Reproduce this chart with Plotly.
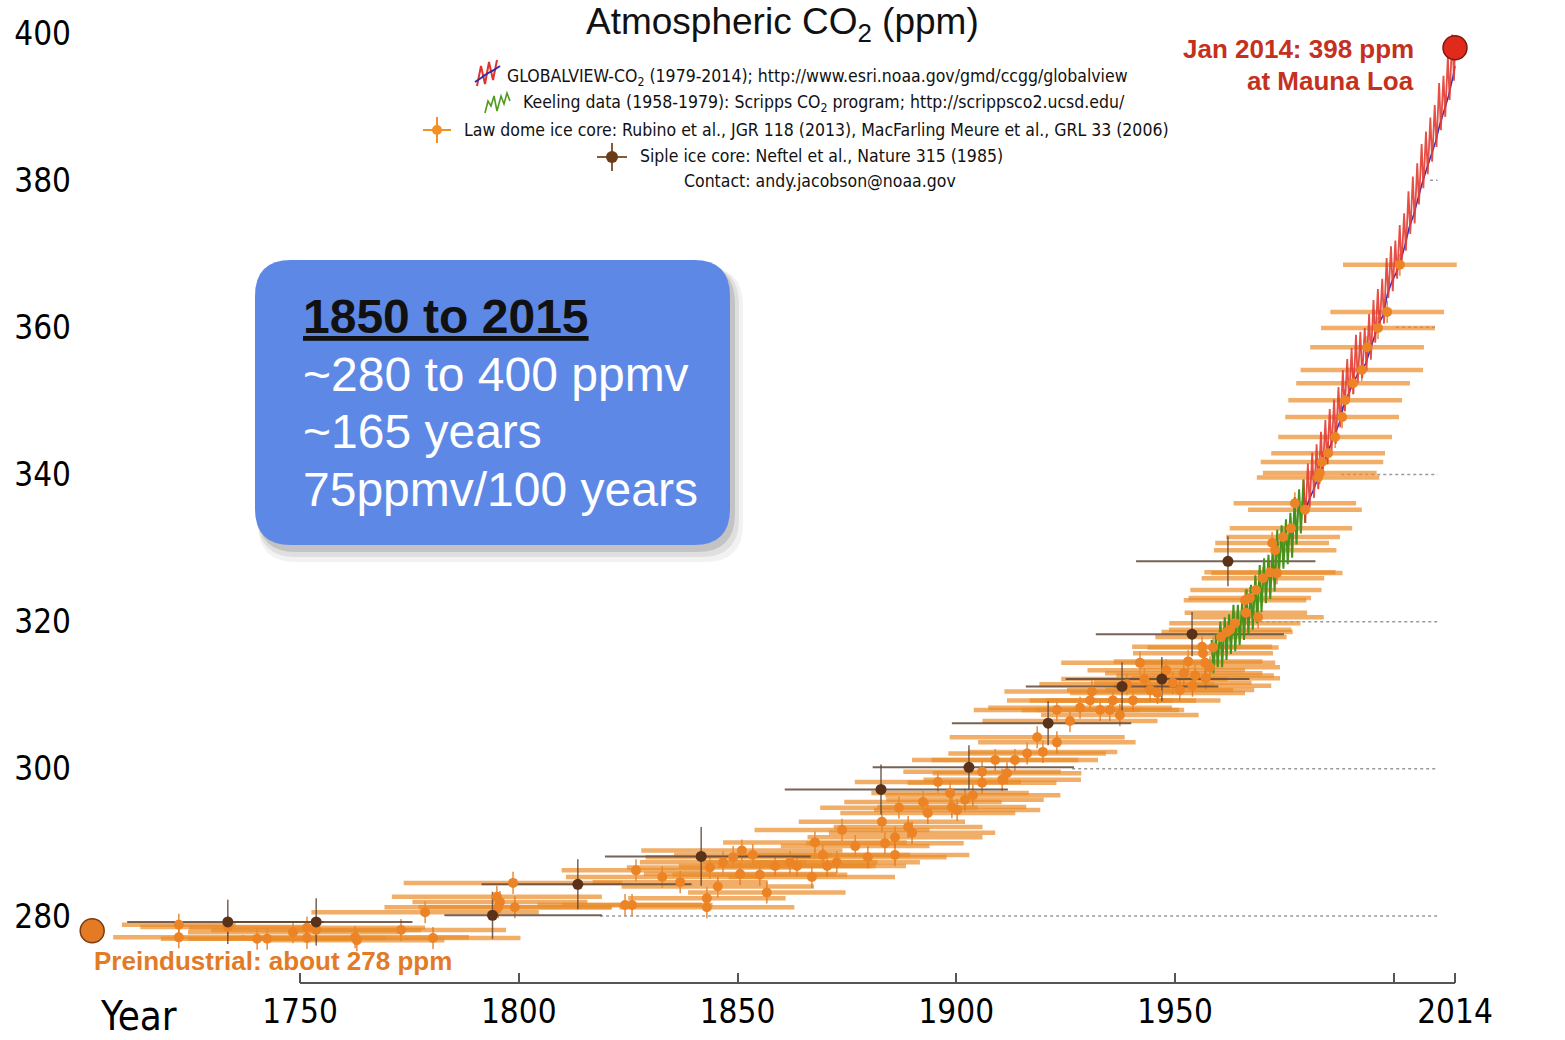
import plotly.graph_objects as go

# ---------------- data ----------------
# Law Dome ice core: gas age (year), CO2 (ppm), age spread (+/- years)
law_year = [1722.3, 1722.3, 1733.5, 1740.2, 1742.5, 1748.4, 1751.6, 1751.6, 1753.7, 1762.6,
            1763.0, 1773.1, 1778.6, 1780.4, 1795.0, 1795.3, 1795.7, 1798.7, 1799.1, 1824.3,
            1825.9, 1826.8, 1832.8, 1836.9, 1843.0, 1843.0, 1843.7, 1845.5, 1846.7, 1849.0,
            1850.6, 1851.0, 1853.5, 1855.1, 1856.7, 1858.6, 1862.0, 1863.6, 1867.0, 1867.7,
            1869.5, 1870.5, 1872.7, 1873.9, 1876.9, 1879.8, 1883.0, 1883.7, 1886.0, 1886.0,
            1886.9, 1889.0, 1889.9, 1892.4, 1893.5, 1895.8, 1898.6, 1899.0, 1900.2, 1902.0,
            1903.8, 1905.9, 1905.9, 1908.9, 1910.5, 1911.6, 1913.4, 1916.2, 1918.5, 1919.8,
            1923.0, 1923.0, 1926.0, 1928.3, 1930.6, 1931.0, 1932.9, 1935.1, 1935.8, 1937.4,
            1939.0, 1940.4, 1942.0, 1943.0, 1944.3, 1946.0, 1948.0, 1949.5, 1951.1, 1952.0,
            1953.0, 1954.0, 1954.6, 1956.2, 1956.4, 1956.9, 1957.0, 1958.0, 1958.7, 1960.5,
            1961.9, 1962.6, 1963.7, 1966.0, 1966.2, 1967.1, 1968.5, 1969.0, 1970.1, 1971.7,
            1972.2, 1972.9, 1973.3, 1974.7, 1976.5, 1977.4, 1979.7, 1982.7, 1983.1, 1983.6,
            1985.0, 1986.6, 1988.2, 1988.9, 1990.7, 1992.7, 1993.9, 1996.4, 1998.5, 2001.4]
law_ppm = [278.8, 277.1, 278.5, 276.9, 276.9, 277.8, 278.4, 277.0, 278.1, 277.1,
           276.7, 278.1, 280.5, 277.0, 282.6, 281.2, 281.9, 284.5, 281.2, 281.5,
           281.5, 286.2, 285.3, 284.6, 282.4, 281.2, 286.6, 284.0, 287.3, 288.0,
           285.7, 288.9, 288.3, 285.6, 283.2, 286.8, 287.3, 286.8, 285.3, 290.0,
           288.3, 286.8, 287.3, 291.7, 289.5, 288.0, 292.8, 289.9, 290.7, 288.3,
           294.7, 292.1, 291.3, 295.5, 294.0, 298.2, 296.7, 294.8, 294.4, 295.8,
           296.4, 299.6, 298.1, 301.2, 298.5, 299.4, 301.2, 302.1, 304.3, 302.3,
           308.0, 303.6, 306.5, 308.3, 309.3, 310.5, 308.0, 308.0, 309.3, 307.3,
           311.5, 309.3, 314.4, 312.2, 310.7, 310.3, 313.4, 311.7, 310.7, 313.0,
           314.6, 311.3, 312.7, 316.6, 315.7, 314.4, 312.3, 313.8, 316.5, 317.9,
           318.6, 318.9, 319.8, 322.9, 321.2, 323.2, 324.3, 320.6, 325.9, 326.7,
           330.7, 329.7, 326.6, 331.5, 332.7, 336.1, 335.2, 339.6, 340.2, 341.7,
           342.9, 345.1, 347.8, 350.1, 352.4, 354.2, 357.3, 359.9, 362.1, 368.5]
law_age_err = [13, 15, 20, 22, 18, 24, 27, 18, 24, 26,
               20, 24, 26, 20, 24, 26, 20, 25, 22, 20,
               16, 17, 22, 20, 18, 20, 19, 22, 19, 20,
               22, 23, 18, 20, 18, 22, 20, 18, 19, 21,
               20, 18, 19, 20, 17, 18, 19, 18, 20, 17,
               18, 17, 19, 18, 20, 19, 18, 17, 19, 18,
               20, 18, 17, 19, 18, 17, 19, 18, 20, 17,
               19, 18, 20, 21, 19, 20, 18, 17, 19, 18,
               20, 20, 18, 19, 19, 20, 18, 18, 17, 18,
               17, 18, 18, 16, 16, 16, 17, 16, 15, 15,
               15, 14, 15, 14, 14, 14, 15, 15, 14, 15,
               13, 14, 15, 13, 14, 14, 13, 14, 13, 14,
               13, 13, 13, 13, 13, 14, 13, 13, 13, 13]

# Siple ice core (Neftel et al. 1985)
siple_year = [1733.5, 1753.7, 1794.0, 1813.5, 1841.7, 1882.8, 1902.9, 1921.0, 1937.9, 1947.0, 1953.9, 1962.1]
siple_ppm = [279.2, 279.2, 280.1, 284.3, 288.1, 297.2, 300.2, 306.2, 311.2, 312.2, 318.3, 328.2]
siple_age_minus = [23, 19, 11, 22, 22, 22, 22, 22, 22, 22, 22, 21]
siple_age_plus = [22, 22, 25, 26, 25, 29, 24, 19, 22, 20, 21, 20]
siple_ppm_err = [3.0, 3.2, 3.2, 3.4, 4.0, 3.4, 3.0, 3.0, 3.3, 3.0, 3.0, 3.4]

# Keeling record 1958-1979: yearly spring maximum and autumn minimum (ppm)
keeling_years = list(range(1958, 1980))
keeling_peak = [317.5, 318.3, 320.0, 320.6, 321.0, 322.3, 322.3, 322.9, 324.4, 325.0, 326.3,
                327.7, 328.6, 329.1, 330.4, 332.5, 333.1, 333.9, 334.8, 336.9, 338.0, 339.3]
keeling_trough = [313.0, 313.8, 313.8, 314.8, 315.6, 316.0, 316.8, 317.5, 318.3, 318.9, 319.8,
                  321.3, 322.5, 323.1, 324.1, 326.4, 327.2, 327.8, 328.7, 330.5, 332.0, 333.4]

# GLOBALVIEW-CO2 1979-2014: yearly maximum / minimum (red) and global mean (blue)
gv_years = list(range(1979, 2014))
gv_peak = [339.3, 341.5, 343.0, 344.1, 345.8, 347.4, 348.9, 350.2, 351.9, 354.2,
           355.7, 357.2, 359.0, 359.4, 359.9, 361.8, 363.7, 365.2, 366.6, 369.4,
           371.0, 371.8, 373.9, 375.5, 378.5, 380.5, 382.3, 384.9, 386.6, 388.5,
           390.2, 393.2, 394.2, 396.8, 399.8]
gv_trough = [333.4, 335.5, 336.8, 338.0, 340.0, 341.4, 343.0, 344.2, 346.4, 348.6,
             349.9, 350.9, 352.4, 353.1, 354.1, 355.6, 357.9, 359.5, 360.5, 364.0,
             364.9, 366.6, 368.1, 370.4, 372.7, 374.1, 376.7, 378.9, 380.8, 382.5,
             384.5, 386.8, 388.6, 390.9, 393.5]
gv_global = [334.6, 336.4, 337.8, 339.2, 340.8, 342.5, 344.0, 345.3, 347.0, 349.4,
             350.9, 352.2, 353.4, 354.3, 355.0, 356.7, 358.7, 360.5, 361.6, 364.5,
             366.2, 367.4, 369.0, 371.1, 373.6, 375.3, 377.6, 379.7, 381.6, 383.4,
             385.2, 387.6, 389.4, 391.5, 394.1]

mauna_loa_year, mauna_loa_ppm = 2014.0, 398
preind_year, preind_ppm = 1702.5, 278

# dotted reference levels, drawn from where the record leaves them to 2010
grid_levels = [280, 300, 320, 340, 360, 380]
grid_from = [1818.6, 1926.5, 1964.0, 1988.0, 2000.5, 2008.3]
grid_to = 2010.0

tick_years = [1750, 1800, 1850, 1900, 1950, 2000, 2014]
tick_text = ["1750", "1800", "1850", "1900", "1950", "", "2014"]
ppm_ticks = [280, 300, 320, 340, 360, 380, 400]

# ---------------- layout geometry (pixels) ----------------
W, H = 1565, 1040
ML, MR, MT, MB = 72, 70, 0, 57
PW, PH = W - ML - MR, H - MT - MB

NARROW = "Liberation Sans Narrow, Arial Narrow, DejaVu Sans Condensed, sans-serif"
SANS = "Liberation Sans, Arial, Helvetica, sans-serif"


def px(x):
    return (x - ML) / PW


def py(y):
    return (H - MB - y) / PH


def sawtooth(years, peaks, troughs):
    xs, ys = [], []
    for yr, hi, lo in zip(years, peaks, troughs):
        xs += [yr + 0.37, yr + 0.77]
        ys += [hi, lo]
    return xs, ys


fig = go.Figure()

# dotted reference lines
for lvl, x0 in zip(grid_levels, grid_from):
    fig.add_trace(go.Scatter(x=[x0, grid_to], y=[lvl, lvl], mode="lines",
                             line=dict(color="#9a9a9a", width=1.5, dash="dot"),
                             hoverinfo="skip", showlegend=False))

# Law Dome age-spread bars
fig.add_trace(go.Scatter(
    x=law_year, y=law_ppm, mode="markers",
    marker=dict(size=1, color="rgba(0,0,0,0)"),
    error_x=dict(type="data", array=law_age_err, color="rgba(234,140,42,0.7)",
                 thickness=4.5, width=0),
    error_y=dict(type="constant", value=1.5, color="rgba(226,120,30,0.85)",
                 thickness=1.5, width=0),
    hoverinfo="skip", showlegend=False))

# Siple bars
fig.add_trace(go.Scatter(
    x=siple_year, y=siple_ppm, mode="markers",
    marker=dict(size=1, color="rgba(0,0,0,0)"),
    error_x=dict(type="data", array=siple_age_plus, arrayminus=siple_age_minus,
                 color="rgba(95,70,55,0.85)", thickness=2, width=0),
    error_y=dict(type="data", array=siple_ppm_err, color="rgba(95,70,55,0.85)",
                 thickness=1.5, width=0),
    hoverinfo="skip", showlegend=False))

# Keeling record
kx, ky = sawtooth(keeling_years, keeling_peak, keeling_trough)
fig.add_trace(go.Scatter(x=kx, y=ky, mode="lines",
                         line=dict(color="#46921a", width=2),
                         hoverinfo="skip", showlegend=False))

# GLOBALVIEW records
gx, gy = sawtooth(gv_years, gv_peak, gv_trough)
gx.append(mauna_loa_year)
gy.append(mauna_loa_ppm)
fig.add_trace(go.Scatter(x=[y + 0.55 for y in gv_years] + [mauna_loa_year],
                         y=gv_global + [mauna_loa_ppm - 2.5], mode="lines",
                         line=dict(color="#3b2fb0", width=1.6),
                         hoverinfo="skip", showlegend=False))
fig.add_trace(go.Scatter(x=gx, y=gy, mode="lines",
                         line=dict(color="rgba(226,60,50,0.9)", width=1.8),
                         hoverinfo="skip", showlegend=False))

# Law Dome points
fig.add_trace(go.Scatter(x=law_year, y=law_ppm, mode="markers",
                         marker=dict(size=10, color="#ec8426", line=dict(width=0)),
                         hoverinfo="skip", showlegend=False))

# Siple points
fig.add_trace(go.Scatter(x=siple_year, y=siple_ppm, mode="markers",
                         marker=dict(size=11, color="#5a3219", line=dict(width=0)),
                         hoverinfo="skip", showlegend=False))

# highlighted end points
fig.add_trace(go.Scatter(x=[mauna_loa_year], y=[mauna_loa_ppm], mode="markers",
                         marker=dict(size=24, color="#df2a1c", line=dict(color="#7a1a10", width=1.5)),
                         hoverinfo="skip", showlegend=False, cliponaxis=False))
fig.add_trace(go.Scatter(x=[preind_year], y=[preind_ppm], mode="markers",
                         marker=dict(size=24, color="#e47a24", line=dict(color="#7a3d10", width=1.5)),
                         hoverinfo="skip", showlegend=False, cliponaxis=False))

shapes = []
annotations = []

# x axis baseline from 1750 to 2014
shapes.append(dict(type="line", xref="x", yref="paper", x0=1750, x1=2014, y0=0, y1=0,
                   line=dict(color="#555555", width=2)))


def rounded_rect(x0, y0, x1, y1, r):
    pts = [
        ("M", [(x0 + r, y0)]),
        ("L", [(x1 - r, y0)]),
        ("Q", [(x1, y0), (x1, y0 + r)]),
        ("L", [(x1, y1 - r)]),
        ("Q", [(x1, y1), (x1 - r, y1)]),
        ("L", [(x0 + r, y1)]),
        ("Q", [(x0, y1), (x0, y1 - r)]),
        ("L", [(x0, y0 + r)]),
        ("Q", [(x0, y0), (x0 + r, y0)]),
    ]
    out = []
    for cmd, coords in pts:
        out.append(cmd + " ".join(f"{px(a):.5f},{py(b):.5f}" for a, b in coords))
    return " ".join(out) + " Z"


# blue call-out box with a soft shadow
for dx, dy, grow, alpha in [(8, 12, 5, 0.05), (6, 9, 3, 0.08), (4, 6, 1, 0.12)]:
    shapes.append(dict(type="path", xref="paper", yref="paper",
                       path=rounded_rect(255 + dx - grow, 260 + dy - grow, 730 + dx + grow, 545 + dy + grow, 38),
                       fillcolor=f"rgba(0,0,0,{alpha})", line=dict(width=0), layer="above"))
shapes.append(dict(type="path", xref="paper", yref="paper",
                   path=rounded_rect(255, 260, 730, 545, 36),
                   fillcolor="#5d88e6", line=dict(width=0), layer="above"))


def poly(points, color, width):
    path = "M" + " L".join(f"{px(a):.5f},{py(b):.5f}" for a, b in points)
    return dict(type="path", xref="paper", yref="paper", path=path,
                line=dict(color=color, width=width), layer="above")


# legend icons
shapes.append(poly([(477, 86), (481, 66), (485, 84), (489, 62), (493, 80), (497, 60)], "#e0342a", 2))
shapes.append(poly([(475, 82), (481, 78), (485, 75), (490, 72), (494, 70), (500, 66)], "#2c2cb0", 2))
shapes.append(poly([(485, 113), (488, 101), (491, 106), (494, 96), (497, 111), (501, 96),
                    (504, 104), (507, 93), (510, 101)], "#4f9a1c", 1.6))
shapes.append(poly([(423, 130), (451, 130)], "#f39222", 2))
shapes.append(poly([(437, 117), (437, 143)], "#f39222", 2))
shapes.append(dict(type="circle", xref="paper", yref="paper", x0=px(432), x1=px(442), y0=py(135), y1=py(125),
                   fillcolor="#f39222", line=dict(width=0), layer="above"))
shapes.append(poly([(597, 157), (627, 157)], "#8a5a32", 2))
shapes.append(poly([(612, 143), (612, 171)], "#8a5a32", 2))
shapes.append(dict(type="circle", xref="paper", yref="paper", x0=px(606), x1=px(618), y0=py(163), y1=py(151),
                   fillcolor="#6b3a18", line=dict(width=0), layer="above"))


def label(x, y, text, size, color="#111111", family=SANS, xanchor="center", **font_extra):
    annotations.append(dict(xref="paper", yref="paper", x=px(x), y=py(y), text=text,
                            showarrow=False, xanchor=xanchor, yanchor="middle",
                            font=dict(family=family, size=size, color=color, **font_extra)))


label(782, 24, "Atmospheric CO<sub>2</sub> (ppm)", 37)
label(505, 78, "GLOBALVIEW-CO<sub>2</sub> (1979-2014); http://www.esri.noaa.gov/gmd/ccgg/globalview", 17.5,
      family=NARROW, xanchor="left")
label(521, 104, "Keeling data (1958-1979): Scripps CO<sub>2</sub> program; http://scrippsco2.ucsd.edu/", 17.5,
      family=NARROW, xanchor="left")
label(462, 130, "Law dome ice core: Rubino et al., JGR 118 (2013), MacFarling Meure et al., GRL 33 (2006)", 17.5,
      family=NARROW, xanchor="left")
label(638, 156, "Siple ice core: Neftel et al., Nature 315 (1985)", 17.5, family=NARROW, xanchor="left")
label(682, 181, "Contact: andy.jacobson@noaa.gov", 17.5, family=NARROW, xanchor="left")

label(1416, 49, "<b>Jan 2014: 398 ppm</b>", 26, color="#c4311e", xanchor="right")
label(1416, 81, "<b>at Mauna Loa</b>", 26, color="#c4311e", xanchor="right")
label(92, 961, "<b>Preindustrial: about 278 ppm</b>", 26, color="#e27a26", xanchor="left")
label(98, 1016, "Year", 40, color="#000000", family=NARROW, xanchor="left")

label(301, 316, "<b>1850 to 2015</b>", 48, color="#111111", xanchor="left", lineposition="under")
label(301, 374, "~280 to 400 ppmv", 48, color="#ffffff", xanchor="left")
label(301, 431, "~165 years", 48, color="#ffffff", xanchor="left")
label(301, 489, "75ppmv/100 years", 48, color="#ffffff", xanchor="left")

x_range = [1750 - (300 - ML) / 4.375, 1750 + (W - MR - 300) / 4.375]
y_range = [400 - (H - MB - 33) / 7.3583, 400 + 33 / 7.3583]

tick_font = dict(family=NARROW, size=33, color="#000000")

fig.update_layout(
    width=W, height=H,
    margin=dict(l=ML, r=MR, t=MT, b=MB, pad=0),
    paper_bgcolor="white", plot_bgcolor="white",
    showlegend=False,
    xaxis=dict(range=x_range, tickvals=tick_years, ticktext=tick_text,
               ticks="inside", ticklen=10, tickwidth=1.5, tickcolor="#555555",
               showline=False, showgrid=False, zeroline=False,
               tickfont=tick_font, ticklabelstandoff=6, fixedrange=True),
    yaxis=dict(range=y_range, tickvals=ppm_ticks, ticks="", showline=False,
               showgrid=False, zeroline=False, tickfont=tick_font, fixedrange=True),
    yaxis2=dict(range=y_range, tickvals=ppm_ticks, ticks="", showline=False,
                showgrid=False, zeroline=False, overlaying="y", side="right", anchor="x",
                tickfont=tick_font, fixedrange=True),
    shapes=shapes,
    annotations=annotations,
)

fig.write_html("out.html")
